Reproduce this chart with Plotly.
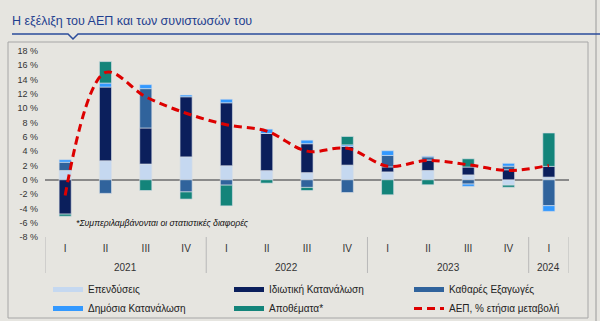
import plotly.graph_objects as go

years = ["2021"] * 4 + ["2022"] * 4 + ["2023"] * 4 + ["2024"]
quarters = ["I", "II", "III", "IV", "I", "II", "III", "IV", "I", "II", "III", "IV", "I"]

investment = [1.3, 2.66, 2.2, 3.2, 1.96, 1.28, 1.0, 2.05, 1.1, 1.3, 0.68, -0.75, 0.37]
private_cons = [-4.8, 10.3, 5.04, 8.4, 8.8, 5.2, 4.04, 2.6, 0.7, 1.45, 1.1, 1.4, 1.5]
net_exports = [1.15, -1.9, 5.5, -1.7, -0.75, 0.0, -1.07, -1.78, 1.6, 0.45, -0.6, 0.5, -3.62]
public_cons = [0.35, 0.56, 0.56, 0.25, 0.5, 0.6, 0.5, 0.23, 0.66, 0.1, -0.33, 0.4, -0.8]
inventories = [-0.3, 3.0, -1.5, -1.0, -2.9, -0.47, -0.43, 1.17, -2.1, -0.7, 1.15, -0.3, 4.67]
gdp = [-2.2, 15.0, 11.6, 9.3, 7.7, 6.8, 4.0, 4.4, 1.9, 2.7, 2.1, 1.3, 2.0]

names = ["Επενδύσεις", "Ιδιωτική Κατανάλωση", "Καθαρές Εξαγωγές",
         "Δημόσια Κατανάλωση", "Αποθέματα*"]
colors = ["#c5d8f0", "#0b1f5c", "#30639c", "#3399ff", "#13847a"]
series = [investment, private_cons, net_exports, public_cons, inventories]
legend_ids = ["legend", "legend2", "legend3", "legend", "legend2"]
gdp_name = "ΑΕΠ, % ετήσια μεταβολή"

yticks = list(range(-8, 19, 2))
yticktext = [f"{v} %" for v in yticks]

BG = "#e6e5e0"
xcats = [f"{y} {q}" for y, q in zip(years, quarters)]

fig = go.Figure()
for nm, col, vals in zip(names, colors, series):
    fig.add_trace(go.Bar(x=xcats, y=vals, name=nm,
                         marker=dict(color=col, line=dict(color="rgba(215,222,230,0.8)", width=0.8)),
                         width=0.3, showlegend=False))
for nm, col, lg in zip(names, colors, legend_ids):
    # legend swatch
    fig.add_trace(go.Scatter(x=xcats, y=[None] * len(xcats), name=nm, mode="lines", legend=lg,
                             line=dict(color=col, width=5), showlegend=True, hoverinfo="skip"))

fig.add_trace(go.Scatter(x=xcats, y=gdp, name=gdp_name, mode="lines", legend="legend3",
                         line=dict(color="#dd0000", width=3, dash="8px,5px", shape="spline")))

W, H = 600, 321
pl, pr, pt, pb = 45, 31, 51, 84
pw, ph = W - pl - pr, H - pt - pb


def px(xp):
    return (xp - pl) / pw


def py(yp):
    return 1 - (yp - pt) / ph


def leg(xpix):
    return dict(orientation="v", xref="container", yref="container", x=xpix / W, y=1 - 275 / H,
                xanchor="left", yanchor="top", font=dict(size=10, color="#222"),
                itemwidth=30, bgcolor="rgba(0,0,0,0)", traceorder="normal",
                tracegroupgap=0, borderwidth=0)


fig.update_layout(
    width=W, height=H,
    margin=dict(l=pl, r=pr, t=pt, b=pb, autoexpand=False),
    paper_bgcolor=BG, plot_bgcolor=BG,
    barmode="relative",
    font=dict(family="Liberation Sans, Arial", color="#333333"),
    showlegend=True,
    legend=leg(48), legend2=leg(229), legend3=leg(409),
    xaxis=dict(type="category", showgrid=False, showline=False, zeroline=False,
               tickmode="array", tickvals=xcats, ticktext=quarters,
               tickfont=dict(size=10, color="#333"), ticks="", ticklabelstandoff=4,
               range=[-0.5, len(xcats) - 0.5], automargin=False),
    yaxis=dict(range=[-8, 18], tickvals=yticks, ticktext=yticktext, showgrid=False,
               zeroline=True, zerolinecolor="#8a8a8a", zerolinewidth=1.5,
               tickfont=dict(size=9, color="#333"), ticklabelstandoff=6, showline=False,
               automargin=False),
)

# year group labels and dividers
groups = []
for i, yv in enumerate(years):
    if not groups or groups[-1][0] != yv:
        groups.append([yv, i, i])
    else:
        groups[-1][2] = i
bounds = [g[1] - 0.5 for g in groups] + [groups[-1][2] + 0.5]
for b in bounds:
    fig.add_shape(type="line", xref="x", yref="paper", x0=b, x1=b, y0=py(237), y1=py(273),
                  line=dict(color="#b8b8b8", width=1))
for yv, i0, i1 in groups:
    fig.add_annotation(text=yv, xref="x", yref="paper", x=(i0 + i1) / 2, y=py(267),
                       xanchor="center", yanchor="middle", showarrow=False,
                       font=dict(size=10, color="#333"))

fig.add_shape(type="rect", xref="paper", yref="paper", x0=px(8), x1=px(588), y0=py(42), y1=py(318),
              line=dict(color="#a6a6a6", width=1), layer="below")
fig.add_shape(type="line", xref="paper", yref="paper", x0=px(596), x1=px(596), y0=py(0), y1=py(321),
              line=dict(color="#9a9a9a", width=1))
path = (f"M {px(12)},{py(34)} L {px(68)},{py(34)} L {px(73)},{py(39)} "
        f"L {px(78)},{py(34)} L {px(600)},{py(34)}")
fig.add_shape(type="path", xref="paper", yref="paper", path=path,
              line=dict(color="#2b4c9b", width=1.5))

fig.add_annotation(text="Η εξέλιξη του ΑΕΠ και των συνιστωσών του", xref="paper", yref="paper",
                   x=px(10), y=py(21), xanchor="left", yanchor="middle", showarrow=False,
                   font=dict(size=12.5, color="#1f3f8f"))
fig.add_annotation(text="<i>*Συμπεριλαμβάνονται οι στατιστικές διαφορές</i>", xref="paper", yref="paper",
                   x=px(74), y=py(223), xanchor="left", yanchor="middle", showarrow=False,
                   font=dict(size=8.7, color="#111"))

fig.write_html("out.html")
